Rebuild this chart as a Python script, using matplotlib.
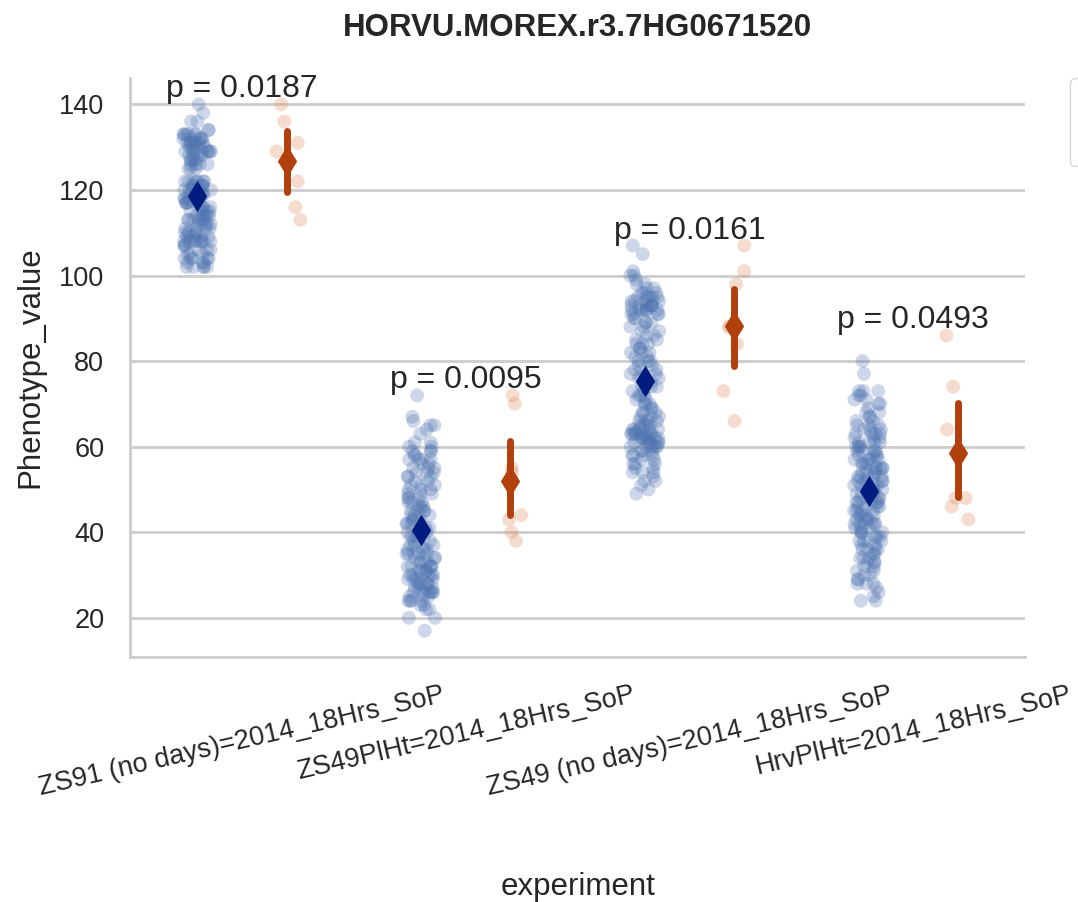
import numpy as np
import pandas as pd
import matplotlib
matplotlib.use("Agg")
import matplotlib.pyplot as plt
import seaborn as sns

gene = "HORVU.MOREX.r3.7HG0671520"
experiments = ["ZS91 (no days)=2014_18Hrs_SoP", "ZS49PlHt=2014_18Hrs_SoP",
               "ZS49 (no days)=2014_18Hrs_SoP", "HrvPlHt=2014_18Hrs_SoP"]
p_values = ["0.0187", "0.0095", "0.0161", "0.0493"]
alleles = ["REF", "ALT"]

# REF allele lines: phenotype value -> number of lines with that value
zs91_ref_vals = [140, 138, 136, 134, 133, 132, 131, 130, 129, 128, 127, 126, 125,
                 122, 121, 120, 119, 118, 117, 116, 115, 114, 113, 112, 111, 110,
                 109, 108, 107, 106, 105, 104, 103, 102]
zs91_ref_counts = [1, 1, 2, 2, 6, 5, 7, 5, 7, 4, 4, 4, 3,
                   7, 5, 6, 4, 5, 5, 4, 4, 5, 6, 4, 4, 5,
                   4, 9, 3, 3, 3, 5, 3, 5]

zs49plht_ref_vals = [72, 67, 66, 65, 64, 63, 61, 60, 59, 58, 57, 56, 55, 54, 53, 52,
                     51, 50, 49, 48, 47, 46, 45, 44, 43, 42, 41, 40, 39, 38, 37, 36,
                     35, 34, 33, 32, 31, 30, 29, 28, 27, 26, 25, 24, 23, 22, 20, 17]
zs49plht_ref_counts = [1, 1, 1, 2, 1, 1, 2, 2, 3, 2, 4, 2, 3, 3, 3, 2,
                       3, 3, 3, 3, 3, 3, 4, 3, 3, 4, 3, 4, 4, 3, 3, 4,
                       5, 3, 4, 5, 4, 6, 4, 5, 4, 6, 3, 4, 2, 2, 2, 1]

zs49_ref_vals = [107, 105, 101, 100, 99, 98, 97, 96, 95, 94, 93, 92, 91, 90, 89, 88,
                 87, 86, 85, 84, 83, 82, 81, 80, 79, 78, 77, 76, 75, 74, 73, 72,
                 71, 70, 69, 68, 67, 66, 65, 64, 63, 62, 61, 60, 59, 58, 57, 56,
                 55, 54, 53, 52, 51, 50, 49]
zs49_ref_counts = [1, 1, 1, 2, 1, 2, 2, 3, 5, 5, 6, 7, 4, 2, 3, 2,
                   2, 2, 2, 3, 2, 3, 2, 3, 2, 3, 2, 3, 2, 3, 2, 3,
                   2, 3, 2, 3, 3, 4, 4, 5, 8, 8, 5, 6, 3, 4, 2, 3,
                   2, 3, 1, 2, 1, 1, 1]

hrv_ref_vals = [80, 77, 73, 72, 71, 70, 69, 68, 67, 66, 65, 64, 63, 62, 61, 60,
                59, 58, 57, 56, 55, 54, 53, 52, 51, 50, 49, 48, 47, 46, 45, 44,
                43, 42, 41, 40, 39, 38, 37, 36, 35, 34, 33, 32, 31, 30, 29, 28,
                27, 26, 25, 24]
hrv_ref_counts = [1, 1, 3, 2, 2, 2, 1, 2, 2, 2, 3, 3, 4, 3, 4, 4,
                  4, 4, 4, 4, 5, 4, 5, 4, 5, 4, 5, 4, 5, 4, 4, 4,
                  4, 5, 3, 4, 3, 4, 2, 4, 2, 3, 3, 2, 2, 2, 2, 3,
                  1, 1, 1, 2]

# ALT allele lines
zs91_alt = [140, 136, 131, 129, 122, 116, 113]
zs49plht_alt = [72, 70, 55, 54, 44, 43, 40, 38]
zs49_alt = [107, 101, 98, 88, 88, 84, 73, 66]
hrv_alt = [86, 74, 64, 48, 48, 46, 43]

ref_groups = [(zs91_ref_vals, zs91_ref_counts), (zs49plht_ref_vals, zs49plht_ref_counts),
              (zs49_ref_vals, zs49_ref_counts), (hrv_ref_vals, hrv_ref_counts)]
alt_groups = [zs91_alt, zs49plht_alt, zs49_alt, hrv_alt]

rows = []
for exp, (vals, counts), alt in zip(experiments, ref_groups, alt_groups):
    for v in np.repeat(vals, counts):
        rows.append((exp, "REF", v))
    for v in alt:
        rows.append((exp, "ALT", v))
df = pd.DataFrame(rows, columns=["experiment", "allele", "Phenotype_value"])

sns.set_theme(style="whitegrid")
plt.rcParams["font.family"] = ["Liberation Sans", "DejaVu Sans"]
plt.rcParams["text.color"] = "#262626"

fig, ax = plt.subplots(figsize=(10.78, 9.02), dpi=100)
fig.subplots_adjust(left=0.1206, right=0.951, bottom=0.2716, top=0.9135)

np.random.seed(3)
sns.stripplot(data=df, x="experiment", y="Phenotype_value", hue="allele",
              order=experiments, hue_order=alleles, dodge=True, jitter=0.13,
              alpha=0.28, size=10, linewidth=0, palette="deep", ax=ax)
n_lines = len(ax.lines)
sns.pointplot(data=df, x="experiment", y="Phenotype_value", hue="allele",
              order=experiments, hue_order=alleles, dodge=0.4, linestyle="none",
              markers="d", markersize=13, palette="dark", errorbar=("ci", 95),
              seed=1, err_kws={"linewidth": 5}, ax=ax)
for line in ax.lines[n_lines:]:
    line.set_zorder(5)
    line.set_alpha(1)

for i, exp in enumerate(experiments):
    top = df.loc[df["experiment"] == exp, "Phenotype_value"].max()
    ax.text(i, top, f"p = {p_values[i]}", ha="center", va="bottom", fontsize=23)

sns.despine(ax=ax)
for side in ["left", "bottom"]:
    ax.spines[side].set_color("#cccccc")
    ax.spines[side].set_linewidth(2)
ax.grid(axis="y", color="#cccccc", linewidth=2)
ax.set_yticks([20, 40, 60, 80, 100, 120, 140])
ax.tick_params(axis="y", labelsize=19.5, pad=12.5)
ax.tick_params(axis="x", labelsize=19.5, pad=12)
plt.setp(ax.get_xticklabels(), rotation=13, ha="center")
ax.set_xlabel("experiment", fontsize=22.5, labelpad=51)
ax.set_ylabel("Phenotype_value", fontsize=22.5, labelpad=10)
ax.set_title(gene, fontsize=22.5, fontweight="bold", pad=30)

# legend sits off the right edge, only its frame shows
handles, labels = ax.get_legend_handles_labels()
leg = ax.legend(handles[:2], labels[:2], bbox_to_anchor=(1.05, 1), loc=2,
                borderaxespad=0., fontsize=20)
for t in leg.get_texts():
    t.set_visible(False)

fig.savefig("out.png", dpi=100)
